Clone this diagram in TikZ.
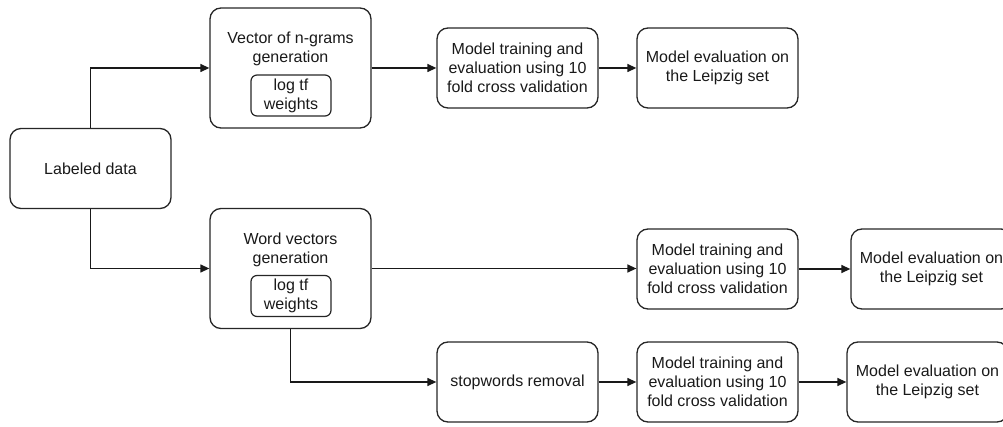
\documentclass[tikz,border=0pt]{standalone}
\usepackage{fontspec}
\setmainfont{Liberation Sans}
\usetikzlibrary{arrows.meta}
\begin{document}
\begin{tikzpicture}[x=1pt,y=-1pt,
  every node/.style={font=\fontsize{16}{19}\selectfont, align=center, text=black!90},
  box/.style={draw=black!85, line width=1.3pt, rounded corners=11pt, minimum width=161pt, minimum height=80pt, inner sep=0pt},
  tallbox/.style={box, minimum height=120pt},
  inbox/.style={draw=black!85, line width=1.2pt, rounded corners=6pt, minimum width=80pt, minimum height=41pt, inner sep=0pt},
  conn/.style={draw=black!90, line width=1.3pt, -{Triangle[length=9pt,width=8pt]}}]
\useasboundingbox (0,0) rectangle (1003,427);
\clip (0,0) rectangle (1003,427);
\node[box] (lab) at (90.5,168.5) {Labeled data};
% upper branch
\node[tallbox] (vec) at (290.5,68) {};
\node (vect) at (290.5,49) {Vector of n-grams\\generation};
\node[inbox] (vecw) at (291,95.5) {log tf\\weights};
\node[box] (tr1) at (517.5,68) {Model training and\\evaluation using 10\\fold cross validation};
\node[box] (ev1) at (717.5,68) {Model evaluation on\\the Leipzig set};
% middle branch
\node[tallbox] (wv) at (290.5,268.5) {};
\node (wvt) at (290.5,249.5) {Word vectors\\generation};
\node[inbox] (wvw) at (291,296) {log tf\\weights};
\node[box] (tr2) at (717.5,269) {Model training and\\evaluation using 10\\fold cross validation};
\node[box] (ev2) at (931.5,269) {Model evaluation on\\the Leipzig set};
% lower branch
\node[box] (sw) at (517.5,382) {stopwords removal};
\node[box] (tr3) at (717.5,382) {Model training and\\evaluation using 10\\fold cross validation};
\node[box] (ev3) at (927.5,382) {Model evaluation on\\the Leipzig set};
% connectors
\draw[conn] (lab.north) |- (vec.west);
\draw[conn] (lab.south) |- (wv.west);
\draw[conn] (vec.east) -- (tr1.west);
\draw[conn] (tr1.east) -- (ev1.west);
\draw[conn] (wv.east) -- (tr2.west |- wv.east);
\draw[conn] (tr2.east) -- (ev2.west);
\draw[conn] (wv.south) |- (sw.west);
\draw[conn] (sw.east) -- (tr3.west);
\draw[conn] (tr3.east) -- (ev3.west);
\end{tikzpicture}
\end{document}
